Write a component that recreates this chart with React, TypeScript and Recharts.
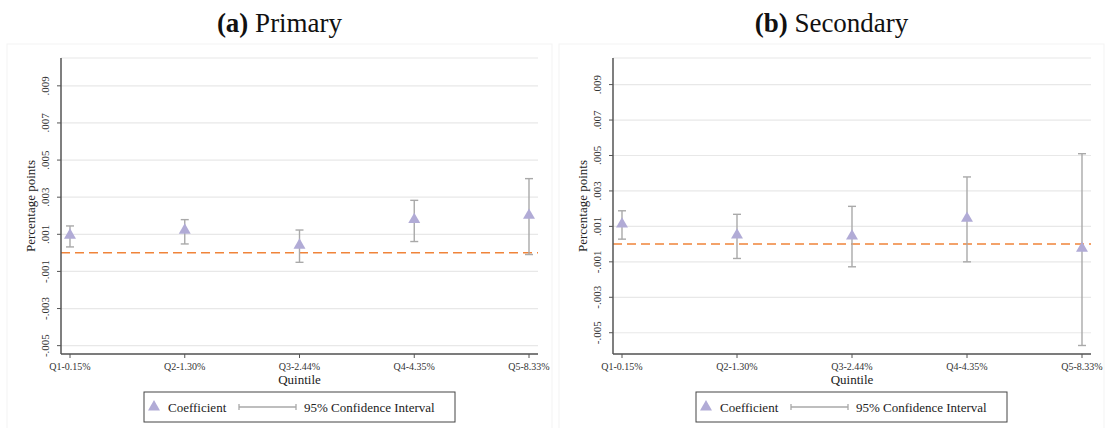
import React from 'react'
import { ComposedChart, Scatter, ErrorBar, XAxis, YAxis, CartesianGrid, ReferenceLine, Label, Symbols } from 'recharts'

const SERIF = '"Liberation Serif", "DejaVu Serif", serif'
const COEF_COLOR = '#b1abd6'
const CI_COLOR = '#a9a9a9'
const ZERO_COLOR = '#f0843a'
const AXIS_COLOR = '#555'

const quintiles = ['Q1-0.15%', 'Q2-1.30%', 'Q3-2.44%', 'Q4-4.35%', 'Q5-8.33%']
const yTicks = [-0.005, -0.003, -0.001, 0.001, 0.003, 0.005, 0.007, 0.009]

// (a) Primary
const primaryCoef = [0.00095, 0.00122, 0.00041, 0.00179, 0.00202]
const primaryLow = [0.00032, 0.00048, -0.00051, 0.00061, -0.00009]
const primaryHigh = [0.00145, 0.00179, 0.00123, 0.00283, 0.0040]

// (b) Secondary
const secondaryCoef = [0.00113, 0.00051, 0.00045, 0.00145, -0.00024]
const secondaryLow = [0.00028, -0.00081, -0.00128, -0.001, -0.00572]
const secondaryHigh = [0.00188, 0.00168, 0.00213, 0.00379, 0.0051]

const buildRows = (coef: number[], low: number[], high: number[]) =>
  quintiles.map((q, i) => ({ q, coef: coef[i], ci: [coef[i] - low[i], high[i] - coef[i]] }))

const fmt = (v: number) => v.toFixed(3).replace('0.', '.')

const YTick = ({ x, y, payload }: any) => {
  const px = x - 6
  return (
    <text x={px} y={y} transform={`rotate(-90, ${px}, ${y})`} textAnchor="middle" fontSize={11} fill="#333" fontFamily={SERIF}>
      {fmt(payload.value)}
    </text>
  )
}

const XTick = ({ x, y, payload }: any) => (
  <text x={x} y={y + 10} textAnchor="middle" fontSize={10} fill="#333" fontFamily={SERIF}>
    {payload.value}
  </text>
)

const Triangle = (p: any) => <Symbols cx={p.cx} cy={p.cy} type="triangle" size={62} fill={COEF_COLOR} />

const YLabel = ({ viewBox }: any) => {
  const x = viewBox.x + 19
  const y = viewBox.y + viewBox.height / 2
  return (
    <text x={x} y={y} transform={`rotate(-90, ${x}, ${y})`} textAnchor="middle" dominantBaseline="central" fontSize={13} fill="#222" fontFamily={SERIF}>
      Percentage points
    </text>
  )
}

const XLabel = ({ viewBox }: any) => (
  <text x={viewBox.x + viewBox.width / 2} y={384} textAnchor="middle" fontSize={13} fill="#222" fontFamily={SERIF}>
    Quintile
  </text>
)

function Panel({ rows, domain, left, width, marginRight }: any) {
  return (
    <div style={{ position: 'absolute', left, top: 0 }}>
      <ComposedChart width={width} height={390} data={rows} margin={{ top: 58, right: marginRight, bottom: 6, left: 11 }}>
        <CartesianGrid horizontal vertical={false} stroke="#e8e8e8" strokeWidth={1.2} />
        <XAxis
          dataKey="q"
          type="category"
          scale="point"
          padding={{ left: 9, right: 9 }}
          height={30}
          tick={<XTick />}
          tickSize={4}
          tickLine={{ stroke: AXIS_COLOR }}
          axisLine={{ stroke: AXIS_COLOR, strokeWidth: 1.5 }}
          interval={0}
        >
          <Label content={<XLabel />} />
        </XAxis>
        <YAxis
          type="number"
          domain={domain}
          allowDataOverflow
          ticks={yTicks}
          width={50}
          tick={<YTick />}
          tickSize={4}
          tickLine={{ stroke: AXIS_COLOR }}
          axisLine={{ stroke: AXIS_COLOR, strokeWidth: 1.5 }}
        >
          <Label content={<YLabel />} />
        </YAxis>
        <ReferenceLine y={0} stroke={ZERO_COLOR} strokeWidth={1.5} strokeDasharray="9 5" />
        <Scatter dataKey="coef" shape={<Triangle />} isAnimationActive={false}>
          <ErrorBar dataKey="ci" direction="y" width={4} stroke={CI_COLOR} strokeWidth={1.4} />
        </Scatter>
      </ComposedChart>
    </div>
  )
}

function LegendBox({ x }: { x: number }) {
  const y = 392
  const cy = y + 15
  return (
    <g>
      <rect x={x} y={y} width={311} height={30} fill="#fff" stroke="#444" strokeWidth={1} />
      <Symbols cx={x + 10} cy={cy} type="triangle" size={62} fill={COEF_COLOR} />
      <text x={x + 24} y={cy + 4.5} fontSize={13} fill="#222" fontFamily={SERIF}>Coefficient</text>
      <line x1={x + 95} y1={cy} x2={x + 152} y2={cy} stroke={CI_COLOR} strokeWidth={1.3} />
      <line x1={x + 95} y1={cy - 3} x2={x + 95} y2={cy + 3} stroke={CI_COLOR} strokeWidth={1.3} />
      <line x1={x + 152} y1={cy - 3} x2={x + 152} y2={cy + 3} stroke={CI_COLOR} strokeWidth={1.3} />
      <text x={x + 160} y={cy + 4.5} fontSize={13} fill="#222" fontFamily={SERIF}>95% Confidence Interval</text>
    </g>
  )
}

export default function App() {
  return (
    <div style={{ position: 'relative', width: 1107, height: 428, background: '#fff', overflow: 'hidden' }}>
      <style>{'body{margin:0}'}</style>
      <svg width={1107} height={428} style={{ position: 'absolute', left: 0, top: 0 }}>
        <rect x={7} y={44} width={545} height={390} fill="none" stroke="#f3f3f3" />
        <rect x={559} y={44} width={545} height={390} fill="none" stroke="#f3f3f3" />
      </svg>
      <Panel rows={buildRows(primaryCoef, primaryLow, primaryHigh)} domain={[-0.00545, 0.0105]} left={0} width={552} marginRight={14} />
      <Panel rows={buildRows(secondaryCoef, secondaryLow, secondaryHigh)} domain={[-0.0062, 0.0105]} left={552} width={555} marginRight={16} />
      <svg width={1107} height={428} style={{ position: 'absolute', left: 0, top: 0, pointerEvents: 'none' }}>
        <text x={279.5} y={32} textAnchor="middle" fontSize={27} fill="#111" fontFamily={SERIF}>
          <tspan fontWeight="bold">(a)</tspan> Primary
        </text>
        <text x={831.5} y={32} textAnchor="middle" fontSize={27} fill="#111" fontFamily={SERIF}>
          <tspan fontWeight="bold">(b)</tspan> Secondary
        </text>
        <LegendBox x={144} />
        <LegendBox x={696} />
      </svg>
    </div>
  )
}
